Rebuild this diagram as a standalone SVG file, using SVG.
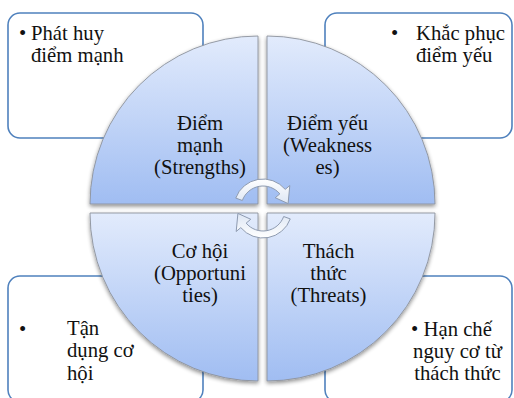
<svg xmlns="http://www.w3.org/2000/svg" width="514" height="398" viewBox="0 0 514 398">
<defs>
<linearGradient id="qfill" x1="0" y1="0" x2="0" y2="1">
<stop offset="0" stop-color="#e2ebfc"/>
<stop offset="1" stop-color="#a0bdf2"/>
</linearGradient>
<linearGradient id="afill" x1="0" y1="0" x2="0" y2="1">
<stop offset="0" stop-color="#ffffff"/>
<stop offset="1" stop-color="#dde6f4"/>
</linearGradient>
<filter id="sh" x="-10%" y="-10%" width="120%" height="120%">
<feGaussianBlur in="SourceAlpha" stdDeviation="2"/>
<feOffset dx="0" dy="1.5" result="b"/>
<feComponentTransfer><feFuncA type="linear" slope="0.45"/></feComponentTransfer>
<feMerge><feMergeNode/><feMergeNode in="SourceGraphic"/></feMerge>
</filter>
</defs>
<style>
.box{fill:#ffffff;stroke:#4f81bd;stroke-width:1.6}
.q{fill:url(#qfill);stroke:#8c929c;stroke-width:0.9;filter:url(#sh)}
.t{font-family:"Liberation Serif","Times New Roman",serif;font-size:20.7px;fill:#111111}
.c{text-anchor:middle}
.arr{fill:url(#afill);stroke:#8d9ab0;stroke-width:1}
</style>
<rect width="514" height="398" fill="#ffffff"/>
<g id="box-strengths">
<rect class="box" x="8" y="13" width="195" height="125" rx="12"/>
<text class="t" x="19" y="40">•</text>
<text class="t" x="31" y="40">Phát huy</text>
<text class="t" x="31" y="62">điểm mạnh</text>
</g>
<g id="box-weaknesses">
<rect class="box" x="325" y="13" width="187" height="125" rx="12"/>
<text class="t" x="391" y="40">•</text>
<text class="t" x="416" y="40">Khắc phục</text>
<text class="t" x="416" y="62">điểm yếu</text>
</g>
<g id="box-opportunities">
<rect class="box" x="8" y="276" width="195" height="126" rx="12"/>
<text class="t" x="19" y="336">•</text>
<text class="t" x="67" y="335">Tận</text>
<text class="t" x="67" y="357">dụng cơ</text>
<text class="t" x="67" y="380">hội</text>
</g>
<g id="box-threats">
<rect class="box" x="325" y="276" width="187" height="126" rx="12"/>
<text class="t c" x="451.5" y="336">• Hạn chế</text>
<text class="t c" x="457.5" y="358">nguy cơ từ</text>
<text class="t c" x="457.5" y="380">thách thức</text>
</g>
<g id="q-strengths">
<path class="q" d="M258,204 L90,204 A168,168 0 0 1 258,36 Z"/>
<text class="t c" x="200" y="129.5">Điểm</text>
<text class="t c" x="200" y="151.5">mạnh</text>
<text class="t c" x="200" y="173.5">(Strengths)</text>
</g>
<g id="q-weaknesses">
<path class="q" d="M267,204 L267,36 A168,168 0 0 1 435,204 Z"/>
<text class="t c" x="327.5" y="129.5">Điểm yếu</text>
<text class="t c" x="327.5" y="151.5">(Weakness</text>
<text class="t c" x="327.5" y="173.5">es)</text>
</g>
<g id="q-opportunities">
<path class="q" d="M258,213 L258,381 A168,168 0 0 1 90,213 Z"/>
<text class="t c" x="200" y="258">Cơ hội</text>
<text class="t c" x="200" y="280">(Opportuni</text>
<text class="t c" x="200" y="302">ties)</text>
</g>
<g id="q-threats">
<path class="q" d="M267,213 L435,213 A168,168 0 0 1 267,381 Z"/>
<text class="t c" x="328.5" y="258">Thách</text>
<text class="t c" x="328.5" y="280">thức</text>
<text class="t c" x="328.5" y="302">(Threats)</text>
</g>
<g id="connectors">
<path class="arr" d="M235.75,198.08 A29,29 0 0 1 285.22,189.36 L289.81,185.5 L288.1,203.6 L275.26,197.72 L279.85,193.86 A22,22 0 0 0 242.33,200.48 Z"/>
<path class="arr" d="M235.75,198.08 A29,29 0 0 1 285.22,189.36 L289.81,185.5 L288.1,203.6 L275.26,197.72 L279.85,193.86 A22,22 0 0 0 242.33,200.48 Z" transform="rotate(180 263 208.5)"/>
</g>
</svg>
